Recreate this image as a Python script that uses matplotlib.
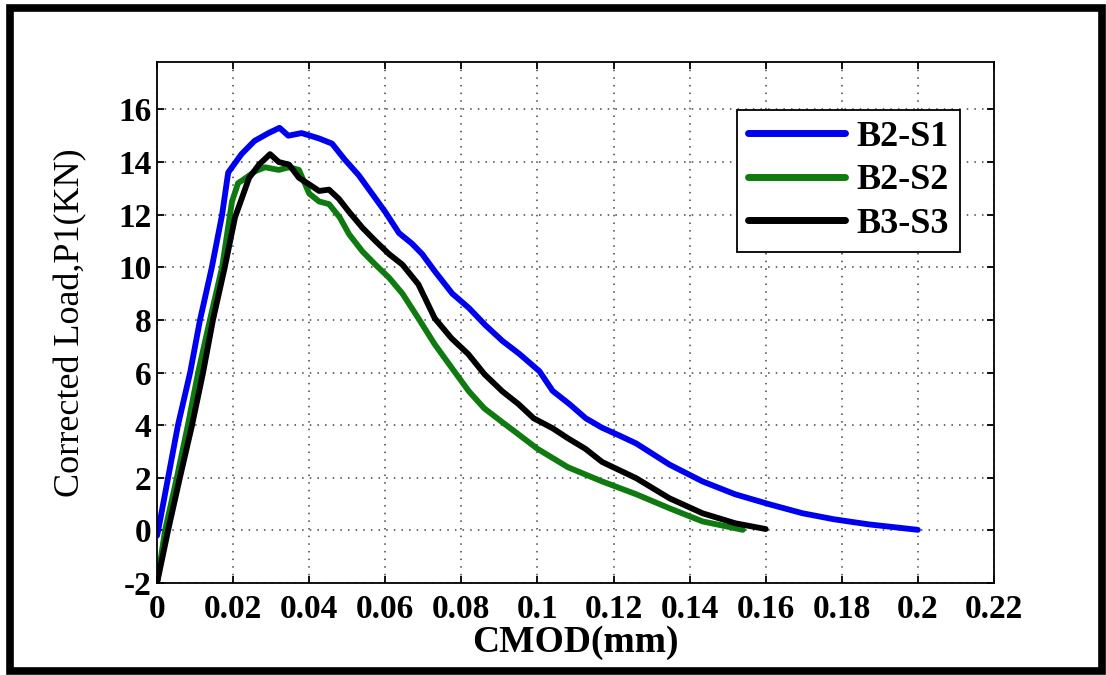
import matplotlib
matplotlib.use("Agg")
import matplotlib.pyplot as plt
from matplotlib.patches import Rectangle

# ---- data ----
b2s1_x = [0.0, 0.0003, 0.0029, 0.0055, 0.0087, 0.0113, 0.0144, 0.0171, 0.0187, 0.0222,
          0.0256, 0.0293, 0.0322, 0.0345, 0.038, 0.0425, 0.046, 0.0493, 0.053, 0.0565,
          0.06, 0.0636, 0.067, 0.0697, 0.073, 0.0776, 0.082, 0.0863, 0.0908, 0.0953,
          0.1005, 0.104, 0.1084, 0.1127, 0.117, 0.1216, 0.126, 0.1347, 0.1434, 0.152,
          0.161, 0.1697, 0.178, 0.187, 0.2]
b2s1_y = [-0.2, 0.0, 2.0, 4.0, 6.0, 8.0, 10.0, 12.0, 13.6, 14.3,
          14.8, 15.1, 15.3, 15.0, 15.1, 14.9, 14.7, 14.1, 13.5, 12.8,
          12.1, 11.3, 10.9, 10.5, 9.85, 9.0, 8.45, 7.8, 7.2, 6.7,
          6.05, 5.3, 4.8, 4.26, 3.9, 3.6, 3.3, 2.5, 1.86, 1.37,
          0.99, 0.65, 0.42, 0.23, 0.02]

b2s2_x = [0.0, 0.0021, 0.0052, 0.0081, 0.0108, 0.0139, 0.0171, 0.0197, 0.0213, 0.0224,
          0.0258, 0.0284, 0.032, 0.0347, 0.0373, 0.04, 0.0426, 0.0452, 0.048, 0.0505,
          0.054, 0.0574, 0.061, 0.0645, 0.0687, 0.073, 0.0776, 0.082, 0.086, 0.0905,
          0.095, 0.1, 0.108, 0.117, 0.126, 0.1347, 0.1434, 0.154]
b2s2_y = [-2.0, 0.0, 2.0, 4.0, 6.0, 8.0, 10.0, 12.5, 13.2, 13.3,
          13.65, 13.8, 13.7, 13.8, 13.7, 12.8, 12.5, 12.4, 11.9, 11.25,
          10.6, 10.1, 9.6, 9.0, 8.06, 7.07, 6.15, 5.28, 4.64, 4.14,
          3.65, 3.1, 2.4, 1.86, 1.37, 0.84, 0.34, 0.02]

b3s3_x = [0.0, 0.0029, 0.006, 0.0092, 0.0121, 0.0147, 0.0178, 0.0205, 0.0242, 0.0268,
          0.0297, 0.032, 0.0347, 0.0373, 0.04, 0.0426, 0.0452, 0.0478, 0.0505, 0.054,
          0.0574, 0.061, 0.0645, 0.0687, 0.073, 0.0774, 0.0818, 0.0861, 0.0908, 0.095,
          0.099, 0.104, 0.108, 0.1126, 0.117, 0.126, 0.1347, 0.1434, 0.152, 0.16]
b3s3_y = [-2.0, 0.0, 2.0, 4.0, 6.0, 8.0, 10.0, 11.9, 13.4, 13.9,
          14.3, 14.0, 13.9, 13.4, 13.15, 12.9, 12.95, 12.6, 12.1, 11.5,
          11.0, 10.5, 10.1, 9.35, 8.06, 7.3, 6.7, 5.93, 5.28, 4.8,
          4.26, 3.88, 3.5, 3.1, 2.6, 1.98, 1.22, 0.65, 0.27, 0.05]

series_labels = ["B2-S1", "B2-S2", "B3-S3"]
x_ticks = [0, 0.02, 0.04, 0.06, 0.08, 0.1, 0.12, 0.14, 0.16, 0.18, 0.2, 0.22]
x_ticklabels = ["0", "0.02", "0.04", "0.06", "0.08", "0.1", "0.12", "0.14", "0.16", "0.18", "0.2", "0.22"]
y_ticks = [-2, 0, 2, 4, 6, 8, 10, 12, 14, 16]
y_ticklabels = ["-2", "0", "2", "4", "6", "8", "10", "12", "14", "16"]

plt.rcParams['font.family'] = ['Liberation Serif', 'DejaVu Serif']
plt.rcParams['axes.unicode_minus'] = False

fig = plt.figure(figsize=(11.06, 6.75), dpi=100)
ax = fig.add_axes([0.1420, 0.1363, 0.7567, 0.7718])

colors = ['#0000f0', '#0f7a0f', '#000000']
for xs, ys, c, lab in zip([b2s1_x, b2s2_x, b3s3_x], [b2s1_y, b2s2_y, b3s3_y], colors, series_labels):
    ax.plot(xs, ys, color=c, lw=4.2, label=lab, solid_joinstyle='round', solid_capstyle='round')

ax.set_xlim(0, 0.22)
ax.set_ylim(-2, 17.8)
ax.set_xticks(x_ticks)
ax.set_xticklabels(x_ticklabels)
ax.set_yticks(y_ticks)
ax.set_yticklabels(y_ticklabels)
ax.grid(True, linestyle=(0, (1, 4)), color='#444444', lw=1.1)
ax.tick_params(direction='in', length=5, width=1.3, top=True, right=True,
               labelsize=24, pad=4)
ax.tick_params(axis='x', pad=8)
for lbl in ax.get_xticklabels() + ax.get_yticklabels():
    lbl.set_fontweight('bold')
for sp in ax.spines.values():
    sp.set_linewidth(1.3)

ax.set_xlabel("CMOD(mm)", fontsize=27, fontweight='bold', labelpad=0)
ax.set_ylabel("Corrected Load,P1(KN)", fontsize=26, labelpad=22)

leg = ax.legend(loc='upper right', bbox_to_anchor=(0.959, 0.908), borderaxespad=0,
                fancybox=False, edgecolor='black', framealpha=1,
                prop={'weight': 'bold', 'size': 26}, handlelength=2.7,
                labelspacing=0.28, handletextpad=0.3, borderpad=0.3)
leg.get_frame().set_linewidth(1.3)
for h in leg.get_lines():
    h.set_linewidth(5)

# outer black frame
fig.patches.append(Rectangle((10 / 1106, 4 / 675), 1092 / 1106, 663 / 675,
                             transform=fig.transFigure, fill=False,
                             edgecolor='black', lw=5.5))

fig.savefig("out.png", dpi=100)
